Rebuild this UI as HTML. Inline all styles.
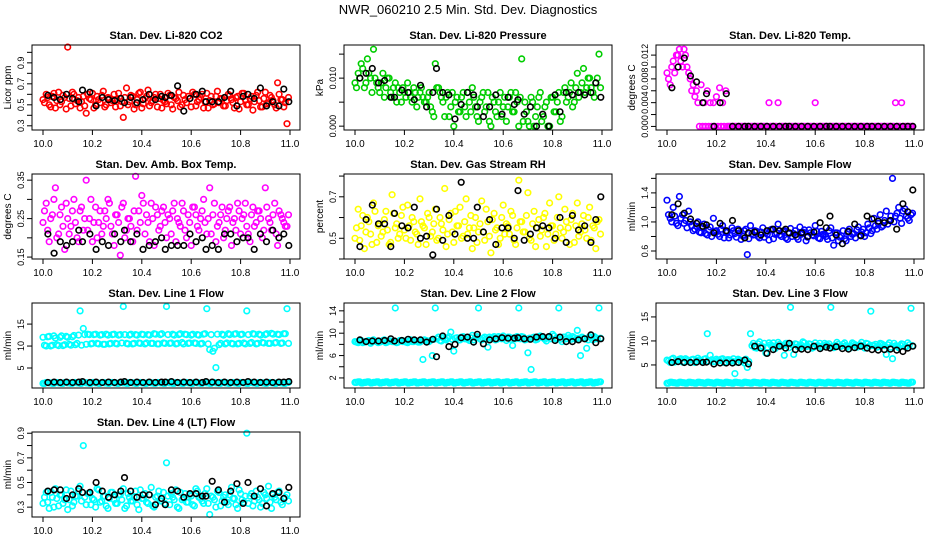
<!DOCTYPE html>
<html><head><meta charset="utf-8"><style>
html,body{margin:0;padding:0;background:#fff;}
svg{display:block;font-family:"Liberation Sans",sans-serif;}
</style></head><body>
<svg id="chart" width="936" height="540" viewBox="0 0 936 540" xmlns="http://www.w3.org/2000/svg">
<text x="468" y="14" text-anchor="middle" font-size="13">NWR_060210  2.5 Min. Std. Dev. Diagnostics</text>
</svg>
<script>
const tMain=[10.000,10.013,10.025,10.038,10.050,10.063,10.075,10.088,10.100,10.113,10.125,10.138,10.150,10.163,10.175,10.188,10.200,10.213,10.225,10.238,10.250,10.263,10.275,10.288,10.300,10.313,10.325,10.338,10.350,10.363,10.375,10.388,10.400,10.413,10.425,10.438,10.450,10.463,10.475,10.488,10.500,10.513,10.525,10.538,10.550,10.563,10.575,10.588,10.600,10.613,10.625,10.638,10.650,10.663,10.675,10.688,10.700,10.713,10.725,10.738,10.750,10.763,10.775,10.788,10.800,10.813,10.825,10.838,10.850,10.863,10.875,10.888,10.900,10.913,10.925,10.938,10.950,10.963,10.975,10.988];
const tMainB=[10.006,10.019,10.031,10.044,10.056,10.069,10.081,10.094,10.106,10.119,10.131,10.144,10.156,10.169,10.181,10.194,10.206,10.219,10.231,10.244,10.256,10.269,10.281,10.294,10.306,10.319,10.331,10.344,10.356,10.369,10.381,10.394,10.406,10.419,10.431,10.444,10.456,10.469,10.481,10.494,10.506,10.519,10.531,10.544,10.556,10.569,10.581,10.594,10.606,10.619,10.631,10.644,10.656,10.669,10.681,10.694,10.706,10.719,10.731,10.744,10.756,10.769,10.781,10.794,10.806,10.819,10.831,10.844,10.856,10.869,10.881,10.894,10.906,10.919,10.931,10.944,10.956,10.969,10.981,10.994];
const tBlack=[10.02,10.045,10.07,10.095,10.12,10.145,10.16,10.19,10.215,10.24,10.265,10.29,10.315,10.33,10.355,10.38,10.405,10.43,10.455,10.48,10.495,10.52,10.545,10.57,10.595,10.62,10.645,10.66,10.685,10.71,10.735,10.76,10.785,10.81,10.83,10.855,10.88,10.905,10.93,10.955,10.975,10.995];
const xTicks=[10.0,10.2,10.4,10.6,10.8,11.0];

const co2Main=[0.55,0.60,0.50,0.58,0.47,0.62,0.53,0.57,1.05,0.49,0.60,0.54,0.47,0.58,0.42,0.56,0.61,0.50,0.55,0.59,0.48,0.57,0.52,0.60,0.55,0.49,0.38,0.66,0.53,0.58,0.50,0.61,0.47,0.56,0.64,0.52,0.57,0.48,0.60,0.54,0.51,0.59,0.46,0.56,0.62,0.50,0.55,0.58,0.48,0.60,0.53,0.57,0.47,0.61,0.54,0.50,0.58,0.52,0.56,0.49,0.60,0.55,0.47,0.58,0.53,0.61,0.50,0.56,0.45,0.59,0.54,0.48,0.62,0.52,0.57,0.50,0.71,0.55,0.48,0.32];
const co2B=[0.52,0.57,0.48,0.61,0.54,0.50,0.59,0.46,0.56,0.62,0.51,0.57,0.53,0.49,0.60,0.55,0.47,0.58,0.52,0.63,0.50,0.56,0.54,0.48,0.61,0.53,0.57,0.50,0.59,0.46,0.55,0.62,0.51,0.58,0.49,0.54,0.60,0.56,0.47,0.53,0.61,0.50,0.57,0.54,0.48,0.59,0.52,0.56,0.62,0.49,0.55,0.60,0.53,0.47,0.58,0.51,0.63,0.56,0.49,0.54,0.59,0.52,0.57,0.46,0.61,0.55,0.50,0.58,0.53,0.62,0.48,0.56,0.51,0.59,0.54,0.47,0.60,0.55,0.52,0.57];
const co2Black=[0.59,0.57,0.55,0.60,0.56,0.53,0.64,0.62,0.49,0.57,0.55,0.54,0.56,0.52,0.57,0.52,0.55,0.60,0.55,0.58,0.57,0.59,0.68,0.44,0.56,0.60,0.63,0.53,0.53,0.53,0.57,0.63,0.49,0.58,0.60,0.56,0.66,0.49,0.53,0.49,0.65,0.53];
const presMain=[0.009,0.011,0.013,0.008,0.014,0.010,0.016,0.009,0.007,0.011,0.008,0.010,0.006,0.009,0.008,0.005,0.007,0.009,0.006,0.008,0.004,0.007,0.006,0.005,0.007,0.003,0.013,0.008,0.006,0.002,0.007,0.004,0.000,0.006,0.003,0.007,0.002,0.005,0.008,0.004,0.001,0.006,0.003,0.007,0.000,0.005,0.002,0.007,0.004,0.001,0.006,0.003,0.007,0.000,0.014,0.005,0.001,0.006,0.000,0.004,0.007,0.002,0.005,0.000,0.006,0.003,0.007,0.002,0.008,0.006,0.009,0.005,0.011,0.007,0.012,0.008,0.010,0.007,0.009,0.015];
const presB=[0.008,0.010,0.012,0.009,0.011,0.007,0.010,0.008,0.009,0.006,0.010,0.007,0.008,0.005,0.007,0.008,0.006,0.007,0.005,0.007,0.006,0.008,0.005,0.006,0.004,0.002,0.008,0.007,0.005,0.006,0.002,0.007,0.005,0.003,0.006,0.004,0.007,0.003,0.006,0.002,0.005,0.007,0.004,0.001,0.006,0.003,0.005,0.002,0.006,0.004,0.007,0.003,0.005,0.006,0.001,0.003,0.000,0.005,0.002,0.006,0.001,0.004,0.000,0.006,0.003,0.005,0.001,0.007,0.005,0.007,0.004,0.008,0.006,0.009,0.007,0.010,0.008,0.006,0.010,0.008];
const presBlack=[0.010,0.011,0.012,0.009,0.0095,0.006,0.006,0.0075,0.007,0.0055,0.0085,0.004,0.007,0.012,0.007,0.0065,0.0015,0.0045,0.007,0.0065,0.004,0.002,0.004,0.0065,0.0025,0.006,0.0045,0.0055,0.0025,0.004,0.000,0.0025,0.000,0.0065,0.003,0.007,0.0065,0.007,0.0065,0.007,0.009,0.006];
const tempMain=[0.009,0.007,0.011,0.012,0.013,0.010,0.012,0.009,0.006,0.005,0.004,0.007,0.004,0.006,0.004,0.004,0.005,0.0065,0.004,0.006,0,0,0,0,0,0,0,0,0,0,0,0,0,0.004,0,0,0.004,0,0,0,0,0,0,0,0,0,0,0,0.004,0,0,0,0,0,0,0,0,0,0,0,0,0,0,0,0,0,0,0,0,0,0,0,0,0,0.004,0,0.004,0,0,0];
const tempB=[0.008,0.010,0.009,0.012,0.011,0.013,0.010,0.008,0.007,0.006,0,0,0,0,0,0,0,0,0,0,0,0,0,0,0,0,0,0,0,0,0,0,0,0,0,0,0,0,0,0,0,0,0,0,0,0,0,0,0,0,0,0,0,0,0,0,0,0,0,0,0,0,0,0,0,0,0,0,0,0,0,0,0,0,0,0,0,0,0,0];
const tempBlack=[0.0065,0.010,0.0115,0.0085,0.0075,0.004,0.0055,0,0.004,0.0055,0,0,0,0,0,0,0,0,0,0,0,0,0,0,0,0,0,0,0,0,0,0,0,0,0,0,0,0,0,0,0,0];
const ambMain=[0.24,0.29,0.19,0.26,0.33,0.21,0.28,0.17,0.25,0.23,0.30,0.20,0.27,0.22,0.35,0.25,0.19,0.28,0.24,0.21,0.27,0.30,0.23,0.18,0.26,0.155,0.29,0.22,0.25,0.19,0.36,0.27,0.31,0.21,0.24,0.29,0.18,0.26,0.23,0.28,0.20,0.25,0.27,0.19,0.24,0.29,0.22,0.26,0.18,0.28,0.23,0.25,0.30,0.21,0.33,0.26,0.19,0.24,0.28,0.22,0.27,0.18,0.25,0.29,0.21,0.26,0.23,0.19,0.28,0.24,0.27,0.20,0.33,0.25,0.22,0.29,0.18,0.26,0.24,0.23];
const ambB=[0.27,0.22,0.25,0.30,0.20,0.26,0.23,0.29,0.21,0.27,0.24,0.19,0.28,0.25,0.22,0.30,0.24,0.20,0.27,0.23,0.25,0.29,0.21,0.26,0.24,0.28,0.20,0.25,0.23,0.27,0.22,0.24,0.29,0.26,0.19,0.25,0.28,0.22,0.27,0.24,0.26,0.21,0.29,0.25,0.23,0.27,0.20,0.24,0.28,0.26,0.22,0.27,0.24,0.25,0.21,0.29,0.23,0.26,0.20,0.25,0.28,0.24,0.22,0.27,0.25,0.29,0.21,0.26,0.23,0.27,0.25,0.22,0.28,0.24,0.26,0.21,0.27,0.25,0.23,0.26];
const ambBlack=[0.21,0.16,0.19,0.18,0.19,0.22,0.19,0.21,0.17,0.19,0.18,0.21,0.19,0.22,0.19,0.21,0.17,0.18,0.19,0.20,0.17,0.18,0.18,0.18,0.21,0.19,0.20,0.17,0.18,0.17,0.21,0.21,0.19,0.20,0.20,0.17,0.21,0.19,0.22,0.20,0.21,0.18];
const rhMain=[0.50,0.64,0.56,0.45,0.60,0.52,0.67,0.48,0.57,0.53,0.63,0.47,0.71,0.55,0.50,0.61,0.54,0.66,0.49,0.58,0.52,0.69,0.56,0.47,0.60,0.53,0.64,0.50,0.57,0.74,0.52,0.62,0.48,0.56,0.65,0.51,0.69,0.55,0.45,0.60,0.53,0.68,0.49,0.58,0.43,0.62,0.55,0.50,0.66,0.57,0.52,0.61,0.47,0.78,0.58,0.53,0.72,0.49,0.63,0.55,0.51,0.60,0.46,0.67,0.56,0.52,0.70,0.50,0.64,0.55,0.59,0.48,0.67,0.53,0.61,0.50,0.65,0.56,0.45,0.59];
const rhB=[0.55,0.49,0.61,0.53,0.58,0.47,0.63,0.56,0.51,0.59,0.54,0.48,0.62,0.57,0.52,0.65,0.50,0.56,0.60,0.53,0.47,0.58,0.55,0.62,0.51,0.57,0.49,0.60,0.54,0.46,0.59,0.53,0.63,0.56,0.50,0.58,0.52,0.61,0.55,0.48,0.57,0.53,0.64,0.51,0.59,0.54,0.47,0.60,0.52,0.56,0.63,0.49,0.55,0.58,0.53,0.61,0.50,0.57,0.46,0.59,0.54,0.62,0.52,0.56,0.49,0.60,0.55,0.53,0.58,0.47,0.62,0.56,0.51,0.57,0.54,0.60,0.49,0.55,0.58,0.52];
const rhBlack=[0.46,0.59,0.66,0.57,0.57,0.46,0.62,0.56,0.55,0.65,0.50,0.51,0.42,0.64,0.49,0.61,0.52,0.77,0.50,0.50,0.65,0.53,0.59,0.47,0.55,0.55,0.50,0.73,0.49,0.52,0.55,0.56,0.55,0.50,0.60,0.48,0.61,0.54,0.56,0.48,0.59,0.70];
const sampMain=[1.30,1.05,1.20,0.98,1.35,1.10,1.02,1.15,0.95,0.90,1.00,0.85,0.97,0.82,0.93,1.05,0.88,0.80,0.95,0.86,0.78,0.92,0.84,0.90,0.76,0.88,0.55,0.95,0.82,0.87,0.78,0.92,0.85,0.75,0.90,0.83,0.97,0.80,0.88,0.76,0.91,0.84,0.79,0.93,0.86,0.74,0.89,0.82,0.95,0.78,0.87,0.83,0.76,0.92,0.68,0.85,0.79,0.88,0.74,0.90,0.83,0.78,0.93,0.86,0.80,0.97,0.84,1.05,0.90,1.10,0.95,1.15,1.02,1.60,1.08,1.20,0.98,1.18,1.05,1.10];
const sampB=[1.10,1.00,1.08,0.95,1.05,0.98,0.92,1.00,0.88,0.94,0.86,0.92,0.84,0.89,0.80,0.87,0.83,0.90,0.78,0.86,0.82,0.88,0.79,0.85,0.81,0.90,0.77,0.84,0.88,0.80,0.86,0.79,0.83,0.89,0.77,0.85,0.82,0.87,0.78,0.84,0.80,0.88,0.76,0.83,0.89,0.79,0.85,0.81,0.87,0.77,0.83,0.80,0.88,0.78,0.85,0.74,0.81,0.77,0.86,0.80,0.84,0.89,0.82,0.90,0.85,0.92,0.88,0.95,0.98,0.93,1.02,0.97,1.08,1.00,1.12,1.05,1.15,1.08,1.02,1.12];
const sampBlack=[1.10,1.25,1.12,1.04,0.98,0.94,0.96,0.85,0.98,0.88,1.02,0.88,0.78,0.85,0.86,0.82,0.88,0.90,0.88,0.90,0.85,0.82,0.85,0.80,0.86,0.99,0.92,1.08,0.82,0.70,0.87,0.97,0.81,1.08,1.04,1.01,0.99,1.02,0.90,1.25,1.14,1.44];
const l1Main=[12,10,12.2,10.2,11.8,10.1,12.3,10.3,12,10.2,12.4,10.6,18,14,10.4,12.6,10.6,12.7,10.5,12.6,10.4,12.5,10.6,12.7,10.5,12.6,19,10.6,12.5,10.5,12.6,10.7,12.7,10.5,12.6,10.6,12.8,10.5,12.6,10.7,19,10.6,12.7,10.5,12.6,10.8,12.7,10.6,12.5,10.7,12.6,10.5,12.7,18.5,9.2,8.8,5.1,10.3,12.7,10.5,12.8,10.6,12.7,10.5,12.6,10.7,18,10.6,12.8,10.5,12.7,10.8,12.6,10.6,12.9,10.7,12.7,10.6,12.8,18.5];
const l1B=[10.2,12.1,10.0,12.3,10.3,12.0,10.1,12.2,10.4,12.1,10.3,12.5,10.2,12.6,12.7,10.5,12.6,10.6,12.5,10.4,12.7,10.5,12.6,10.6,12.5,10.7,12.6,10.5,12.7,10.6,12.5,10.6,12.6,10.7,12.5,10.6,12.7,10.5,12.8,10.6,12.6,10.7,12.5,10.6,12.8,10.5,12.6,10.7,12.7,10.6,12.5,10.6,12.8,10.5,12.6,9.5,12.7,10.6,12.5,10.7,12.6,10.5,12.8,10.6,12.7,10.5,12.6,10.8,12.7,10.6,12.5,10.7,12.8,10.6,12.7,10.8,12.6,10.7,12.8,10.6];
const l1Low=[1.5,1.7,1.6,1.5,1.7,1.6,1.5,1.7,1.6,1.5,1.7,1.6,1.5,1.7,1.6,1.5,1.7,1.6,1.5,1.7,1.6,1.5,1.7,1.6,1.5,1.7,1.6,1.5,1.7,1.6,1.5,1.7,1.6,1.5,1.7,1.6,1.5,1.7,1.6,1.5,1.7,1.6,1.5,1.7,1.6,1.5,1.7,1.6,1.5,1.7,1.6,1.5,1.7,1.6,1.5,1.7,1.6,1.5,1.7,1.6,1.5,1.7,1.6,1.5,1.7,1.6,1.5,1.7,1.6,1.5,1.7,1.6,1.5,1.7,1.6,1.5,1.7,1.6,1.5,1.7];
const l1Black=[1.7,1.8,1.7,1.8,1.7,1.8,1.9,1.7,1.8,1.7,1.8,1.7,1.8,1.9,1.7,1.8,1.7,1.8,1.7,1.8,1.8,1.9,1.7,1.8,1.7,1.8,1.7,1.9,1.8,1.7,1.8,1.7,1.8,1.7,1.9,1.8,1.7,1.8,1.7,1.8,1.8,1.9];
const l2Main=[8.5,8.3,8.7,8.4,8.6,8.2,8.8,8.5,8.4,8.7,8.3,8.6,8.5,14.5,8.4,8.7,8.6,8.3,8.8,8.5,8.6,8.4,5.3,8.7,8.5,6.0,14.5,9.3,8.6,8.9,9.1,10.2,6.8,9.2,8.8,9.4,9.0,8.7,9.6,9.2,14.5,8.8,9.3,7.5,9.1,9.4,8.9,9.2,9.5,8.7,9.3,7.8,9.0,14.5,9.4,8.8,6.5,3.5,9.3,8.9,9.5,9.1,8.6,9.4,9.8,9.0,14.5,8.5,9.3,9.6,8.9,9.2,10.5,6.0,9.1,7.3,9.4,8.8,9.2,14.5];
const l2B=[8.4,8.6,8.3,8.5,8.7,8.4,8.6,8.3,8.5,8.8,8.4,8.6,8.5,8.3,8.7,8.5,8.4,8.6,8.5,8.7,8.4,8.6,8.8,8.5,8.7,8.9,9.0,8.7,9.2,8.8,9.4,8.9,9.1,8.8,9.3,9.0,8.9,9.2,8.8,9.4,9.0,9.1,8.9,9.3,9.2,8.8,9.4,9.0,9.1,9.3,8.9,9.2,9.4,9.0,9.3,8.9,9.1,9.2,8.8,9.4,9.3,8.9,9.2,9.0,9.5,9.1,8.9,9.3,9.0,9.2,9.4,8.9,9.1,9.3,9.0,8.8,9.2,9.4,9.0,9.1];
const l2Low=[1.2,1.3,1.1,1.2,1.3,1.1,1.2,1.3,1.1,1.2,1.3,1.1,1.2,1.3,1.1,1.2,1.3,1.1,1.2,1.3,1.1,1.2,1.3,1.1,1.2,1.3,1.1,1.2,1.3,1.1,1.2,1.3,1.1,1.2,1.3,1.1,1.2,1.3,1.1,1.2,1.3,1.1,1.2,1.3,1.1,1.2,1.3,1.1,1.2,1.3,1.1,1.2,1.3,1.1,1.2,1.3,1.1,1.2,1.3,1.1,1.2,1.3,1.1,1.2,1.3,1.1,1.2,1.3,1.1,1.2,1.3,1.1,1.2,1.3,1.1,1.2,1.3,1.1,1.2,1.3];
const l2Black=[8.8,8.5,8.6,8.6,8.7,9.0,8.6,8.7,8.9,8.8,8.8,8.4,8.9,5.8,9.5,7.6,8.0,9.2,9.3,8.4,9.8,8.1,8.8,9.0,9.2,9.1,9.1,9.2,9.0,8.9,9.3,9.4,9.4,8.7,9.3,8.5,8.5,8.8,9.0,9.7,8.3,9.0];
const l3Main=[6.0,5.5,6.4,5.8,6.2,5.6,6.3,5.9,6.1,5.5,6.4,5.8,6.2,11.5,7.0,5.7,6.2,5.9,6.3,5.6,6.1,5.8,3.2,6.2,5.9,5.4,4.5,11.5,9.5,8.5,9.8,8.8,7.5,9.6,9.0,8.4,9.7,8.9,7.0,9.5,17.0,7.2,9.3,8.6,9.8,8.8,9.4,8.5,9.6,9.0,8.7,9.5,9.1,17.0,8.6,9.7,8.8,9.3,9.0,8.4,9.6,9.2,8.8,9.7,8.5,9.4,16.2,9.0,8.7,9.5,9.2,7.2,9.6,6.3,9.0,8.6,9.4,8.8,9.6,16.8];
const l3B=[5.8,6.2,5.6,6.0,6.3,5.7,6.1,5.5,6.2,5.9,6.0,5.6,6.3,5.8,6.1,5.7,6.0,6.2,5.5,6.1,5.9,6.3,5.6,6.0,5.8,6.2,5.7,9.0,8.6,9.4,8.9,9.5,8.7,9.2,9.6,8.8,9.3,9.0,9.5,8.6,9.2,9.4,8.8,9.1,9.6,8.9,9.3,8.7,9.0,9.5,8.8,9.2,9.4,8.7,9.1,9.3,8.9,9.6,8.8,9.0,9.4,8.7,9.2,9.0,9.5,8.9,9.1,9.3,8.8,9.4,9.0,9.2,8.7,9.5,8.9,9.1,9.3,8.8,9.2,9.0];
const l3Low=[1.2,1.4,1.3,1.2,1.4,1.3,1.2,1.4,1.3,1.2,1.4,1.3,1.2,1.4,1.3,1.2,1.4,1.3,1.2,1.4,1.3,1.2,1.4,1.3,1.2,1.4,1.3,1.2,1.4,1.3,1.2,1.4,1.3,1.2,1.4,1.3,1.2,1.4,1.3,1.2,1.4,1.3,1.2,1.4,1.3,1.2,1.4,1.3,1.2,1.4,1.3,1.2,1.4,1.3,1.2,1.4,1.3,1.2,1.4,1.3,1.2,1.4,1.3,1.2,1.4,1.3,1.2,1.4,1.3,1.2,1.4,1.3,1.2,1.4,1.3,1.2,1.4,1.3,1.2,1.4];
const l3Black=[5.5,5.7,5.5,5.5,5.6,5.5,5.6,5.2,5.4,5.4,5.4,5.5,6.0,5.2,8.9,8.5,7.4,8.2,8.9,8.5,9.5,8.2,8.3,8.2,8.9,8.4,8.7,8.5,8.8,8.4,8.3,8.6,8.9,8.5,8.2,8.1,8.2,8.3,8.1,7.8,8.5,8.9];
const l4Main=[0.33,0.42,0.29,0.38,0.45,0.31,0.40,0.36,0.28,0.43,0.34,0.39,0.47,0.80,0.32,0.41,0.37,0.30,0.44,0.35,0.39,0.29,0.42,0.36,0.33,0.40,0.45,0.31,0.38,0.35,0.43,0.28,0.37,0.41,0.33,0.46,0.30,0.39,0.35,0.42,0.66,0.32,0.38,0.44,0.29,0.36,0.41,0.34,0.39,0.31,0.43,0.37,0.33,0.45,0.24,0.38,0.30,0.42,0.35,0.40,0.32,0.46,0.37,0.29,0.41,0.34,0.90,0.39,0.31,0.43,0.36,0.33,0.40,0.47,0.29,0.38,0.42,0.34,0.37,0.40];
const l4B=[0.38,0.34,0.42,0.30,0.37,0.40,0.33,0.44,0.36,0.31,0.39,0.43,0.35,0.38,0.41,0.32,0.36,0.45,0.34,0.39,0.31,0.37,0.42,0.33,0.40,0.36,0.29,0.41,0.35,0.38,0.32,0.44,0.37,0.34,0.40,0.31,0.38,0.43,0.35,0.33,0.39,0.41,0.36,0.30,0.42,0.37,0.34,0.40,0.32,0.45,0.38,0.35,0.41,0.33,0.39,0.36,0.43,0.31,0.38,0.34,0.40,0.37,0.32,0.44,0.36,0.39,0.33,0.41,0.35,0.38,0.30,0.42,0.37,0.34,0.40,0.36,0.43,0.32,0.38,0.35];
const l4Black=[0.43,0.44,0.44,0.37,0.40,0.45,0.42,0.42,0.50,0.43,0.38,0.40,0.43,0.54,0.43,0.38,0.40,0.40,0.32,0.37,0.32,0.44,0.43,0.38,0.41,0.41,0.39,0.39,0.51,0.44,0.34,0.43,0.49,0.33,0.50,0.39,0.45,0.31,0.41,0.42,0.37,0.46];

const panels=[
 {id:'co2',title:'Stan. Dev. Li-820 CO2',ylab:'Licor ppm',col:0,row:0,ymin:0.26,ymax:1.07,ticks:[0.3,0.4,0.5,0.6,0.7,0.8,0.9,1.0],labels:['0.3','','0.5','','0.7','','0.9',''],series:[[co2Main,'#ff0000',tMain],[co2B,'#ff0000',tMainB],[co2Black,'#000',tBlack]]},
 {id:'pressure',title:'Stan. Dev. Li-820 Pressure',ylab:'kPa',col:1,row:0,ymin:-0.0008,ymax:0.0169,ticks:[0,0.005,0.010,0.015],labels:['0.000','','0.010',''],series:[[presMain,'#00cd00',tMain],[presB,'#00cd00',tMainB],[presBlack,'#000',tBlack]]},
 {id:'temp',title:'Stan. Dev. Li-820 Temp.',ylab:'degrees C',col:2,row:0,ymin:-0.0006,ymax:0.0137,ticks:[0,0.002,0.004,0.006,0.008,0.010,0.012],labels:['0.000','','0.004','','0.008','','0.012'],series:[[tempMain,'#ff00ff',tMain],[tempB,'#ff00ff',tMainB],[tempBlack,'#000',tBlack]]},
 {id:'ambtemp',title:'Stan. Dev. Amb. Box Temp.',ylab:'degrees C',col:0,row:1,ymin:0.145,ymax:0.366,ticks:[0.15,0.20,0.25,0.30,0.35],labels:['0.15','','0.25','','0.35'],series:[[ambMain,'#ff00ff',tMain],[ambB,'#ff00ff',tMainB],[ambBlack,'#000',tBlack]]},
 {id:'rh',title:'Stan. Dev. Gas Stream RH',ylab:'percent',col:1,row:1,ymin:0.40,ymax:0.81,ticks:[0.4,0.5,0.6,0.7,0.8],labels:['','0.5','','0.7',''],series:[[rhMain,'#ffff00',tMain],[rhB,'#ffff00',tMainB],[rhBlack,'#000',tBlack]]},
 {id:'sampleflow',title:'Stan. Dev. Sample Flow',ylab:'ml/min',col:2,row:1,ymin:0.49,ymax:1.66,ticks:[0.6,0.8,1.0,1.2,1.4,1.6],labels:['0.6','','1.0','','1.4',''],series:[[sampMain,'#0000ff',tMain],[sampB,'#0000ff',tMainB],[sampBlack,'#000',tBlack]]},
 {id:'line1',title:'Stan. Dev. Line 1 Flow',ylab:'ml/min',col:0,row:2,ymin:0.45,ymax:19.8,ticks:[5,10,15],labels:['5','10','15'],series:[[l1Main,'#00ffff',tMain],[l1B,'#00ffff',tMainB],[l1Low,'#00ffff',tMain],[l1Low,'#00ffff',tMainB],[l1Black,'#000',tBlack]]},
 {id:'line2',title:'Stan. Dev. Line 2 Flow',ylab:'ml/min',col:1,row:2,ymin:0.2,ymax:15.4,ticks:[2,4,6,8,10,12,14],labels:['2','','6','','10','','14'],series:[[l2Main,'#00ffff',tMain],[l2B,'#00ffff',tMainB],[l2Low,'#00ffff',tMain],[l2Low,'#00ffff',tMainB],[l2Black,'#000',tBlack]]},
 {id:'line3',title:'Stan. Dev. Line 3 Flow',ylab:'ml/min',col:2,row:2,ymin:0.2,ymax:17.9,ticks:[5,10,15],labels:['5','10','15'],series:[[l3Main,'#00ffff',tMain],[l3B,'#00ffff',tMainB],[l3Low,'#00ffff',tMain],[l3Low,'#00ffff',tMainB],[l3Black,'#000',tBlack]]},
 {id:'line4',title:'Stan. Dev. Line 4 (LT) Flow',ylab:'ml/min',col:0,row:3,ymin:0.22,ymax:0.91,ticks:[0.3,0.4,0.5,0.6,0.7,0.8,0.9],labels:['0.3','','0.5','','0.7','','0.9'],series:[[l4Main,'#00ffff',tMain],[l4B,'#00ffff',tMainB],[l4Black,'#000',tBlack]]}
];
const NS='http://www.w3.org/2000/svg';
const svg=document.getElementById('chart');
function mk(tag,attrs,parent){const e=document.createElementNS(NS,tag);for(const k in attrs)e.setAttribute(k,attrs[k]);parent.appendChild(e);return e;}
const colL=[32,344,656], rowT=[45,174,303,432], W=268, H=85;
panels.forEach(p=>{
 const L=colL[p.col], T=rowT[p.row], B=T+H;
 const g=mk('g',{},svg);
 
 
 const xs=v=>L+11+(v-10)*247;
 const ys=v=>B-(v-p.ymin)/(p.ymax-p.ymin)*H;
 const t=mk('text',{x:L+W/2,y:T-6,'text-anchor':'middle','font-size':'11','font-weight':'bold'},g);
 t.textContent=p.title;
 
 
 const yl=mk('text',{x:0,y:0,transform:`translate(${L-21},${T+H/2}) rotate(-90)`,'text-anchor':'middle','font-size':'10'},g);
 yl.textContent=p.ylab;
 
 
 const pts=mk('g',{fill:'none','stroke-width':'1.6'},g);
 
 
 p.series.forEach(([vals,color,tt])=>{
  const n=Math.min(vals.length,tt.length);
  for(let i=0;i<n;i++){
   const c=mk('circle',{cx:xs(tt[i]).toFixed(1),cy:ys(vals[i]).toFixed(1),r:'2.8',stroke:color},pts);
   
   
  }
 });
 const box=mk('rect',{x:L,y:T,width:W,height:H,fill:'none',stroke:'#000','stroke-width':'1'},g);
 
 
 const ya=mk('g',{},g);
 
 
 p.ticks.forEach((v,i)=>{
  const y=ys(v);
  mk('line',{x1:L,x2:L-5,y1:y,y2:y,stroke:'#000'},ya);
  if(p.labels[i]){const tl=mk('text',{x:0,y:0,transform:`translate(${L-8},${y}) rotate(-90)`,'text-anchor':'middle','font-size':'9'},ya);tl.textContent=p.labels[i];}
 });
 const xa=mk('g',{},g);
 
 
 xTicks.forEach(v=>{
  const x=xs(v);
  mk('line',{x1:x,x2:x,y1:B,y2:B+5,stroke:'#000'},xa);
  const tl=mk('text',{x:x,y:B+17,'text-anchor':'middle','font-size':'10'},xa);
  tl.textContent=v.toFixed(1);
 });
});
</script>
</body></html>
